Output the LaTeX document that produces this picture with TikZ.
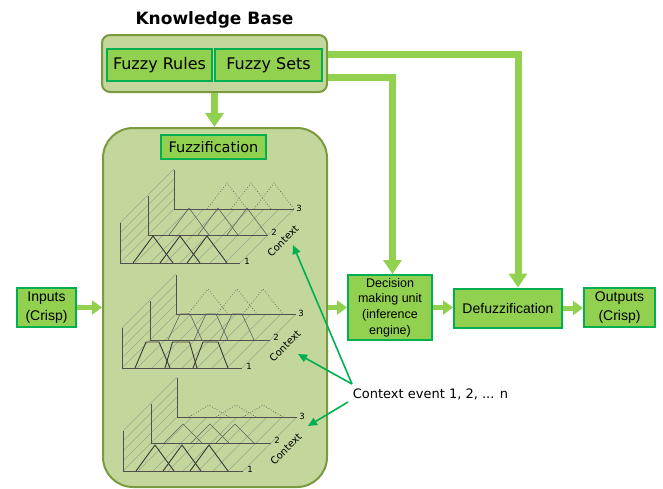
\documentclass[tikz,border=0pt]{standalone}
\usepackage{fontspec}
\setmainfont{DejaVu Sans}
\newfontfamily\arialf{Liberation Sans}
\usetikzlibrary{arrows.meta}
\definecolor{boxfill}{HTML}{C3D69B}
\definecolor{boxline}{HTML}{7A9A3E}
\definecolor{infill}{HTML}{92D050}
\definecolor{inline}{HTML}{00B050}
\definecolor{conn}{HTML}{92D050}
\definecolor{ctxg}{HTML}{00B050}
\definecolor{hatchc}{RGB}{158,170,140}
\definecolor{axisc}{RGB}{80,80,80}
\tikzset{
 outerbox/.style={draw=boxline, fill=boxfill, line width=2pt, inner sep=0pt},
 innerbox/.style={draw=inline, fill=infill, line width=2pt, inner sep=0pt, align=center},
 bigarrow/.style={draw=conn, line width=7pt, -{Triangle[width=18pt,length=14pt]}},
 smallarrow/.style={draw=conn, line width=5pt, -{Triangle[width=14pt,length=10pt]}},
 ctxarrow/.style={draw=ctxg, line width=1.6pt, -{Triangle[width=8pt,length=9pt]}},
 hatch/.style={draw=hatchc, line width=0.5pt},
 axisline/.style={draw=axisc, line width=1pt},
 layerA/.style={draw=black!78, line width=0.9pt},
 layerB/.style={draw=black!62, line width=0.6pt},
 layerC/.style={draw=black!62, line width=0.7pt, dotted},
 smalllab/.style={font=\fontsize{8.5}{10}\selectfont, inner sep=0pt},
 ctxlab/.style={font=\fontsize{10}{12}\selectfont, inner sep=0pt, rotate=45},
}
\newcommand\fztri[3]{\draw (#1-#2,0) -- (#1,-#3) -- (#1+#2,0);}
\newcommand\fztrap[4]{\draw (#1-#2,0) -- (#1-#3,-#4) -- (#1+#3,-#4) -- (#1+#2,0);}
\newcommand\fzaxes{%
  \foreach \i in {0,15,...,120} {\draw[hatch] (\i,0) -- ++(54,-54);}
  \foreach \h in {10,20,30,40} {\draw[hatch] (0,-\h) -- ++(54,-54);}
  \draw[axisline] (54,-93) -- (54,-54) -- (174,-54);
  \draw[axisline] (28,-67) -- (28,-28) -- (148,-28);
  \draw[axisline] (0,-40) -- (0,0) -- (120,0);
  \node[smalllab] at (127,-1.5) {1};
  \node[smalllab] at (154,-31) {2};
  \node[smalllab] at (179,-55) {3};
  \node[ctxlab] at (163,-22) {Context};
}
\begin{document}
\begin{tikzpicture}[x=1pt,y=-1pt]
\useasboundingbox (0,0) rectangle (663,488);

% knowledge base
\node[font=\bfseries\fontsize{17}{20}\selectfont] (title) at (214.5,20) {Knowledge Base};
\node[outerbox, rounded corners=8pt, minimum width=225pt, minimum height=57pt] (kb) at (214.5,63.5) {};
\node[innerbox, minimum width=105pt, minimum height=32pt, font=\fontsize{16}{19}\selectfont] (rules) at (159.5,65) {Fuzzy Rules};
\node[innerbox, minimum width=107pt, minimum height=32pt, font=\fontsize{16}{19}\selectfont] (sets) at (268.5,65) {Fuzzy Sets};

% fuzzification block
\node[outerbox, rounded corners=30pt, minimum width=224pt, minimum height=359pt] (fuzz) at (215,307.5) {};
\node[innerbox, minimum width=105pt, minimum height=24pt, font=\fontsize{14.5}{17}\selectfont] (fzlab) at (213.5,147) {Fuzzification};

% chart 1
\begin{scope}[shift={(120,263)}]
  \fzaxes
  \begin{scope}[layerA] \fztri{33}{20}{27} \fztri{60}{20}{27} \fztri{87}{20}{27} \end{scope}
  \begin{scope}[shift={(28,-28)}, layerB] \fztri{41}{20}{27} \fztri{70}{20}{27} \fztri{99}{20}{27} \end{scope}
  \begin{scope}[shift={(54,-54)}, layerC] \fztri{53}{20}{26} \fztri{77}{20}{26} \fztri{100}{20}{26} \end{scope}
\end{scope}

% chart 2
\begin{scope}[shift={(122,368)}]
  \fzaxes
  \begin{scope}[layerA] \fztrap{30.5}{17.5}{6.5}{26} \fztrap{59}{16}{8.5}{26} \fztrap{88.5}{17.5}{7.5}{26} \end{scope}
  \begin{scope}[shift={(28,-28)}, layerB] \fztrap{35}{17}{5}{26} \fztrap{61}{17}{5}{26} \fztrap{87}{17}{5}{26} \end{scope}
  \begin{scope}[shift={(54,-54)}, layerC] \fztri{32}{20}{25} \fztri{61}{20}{25} \fztri{87}{20}{25} \end{scope}
\end{scope}

% chart 3
\begin{scope}[shift={(123,471)}]
  \fzaxes
  \begin{scope}[layerA] \fztri{32}{19}{26} \fztri{59}{19}{26} \fztri{86}{19}{26} \end{scope}
  \begin{scope}[shift={(28,-28)}, layerB] \fztri{32}{19}{19} \fztri{59}{19}{19} \fztri{84}{19}{19} \end{scope}
  \begin{scope}[shift={(54,-54)}, layerC] \fztri{32}{20}{12} \fztri{59}{20}{12} \fztri{86}{20}{12} \end{scope}
\end{scope}

% other blocks
\node[innerbox, minimum width=59pt, minimum height=39pt, font=\arialf\fontsize{14}{19}\selectfont] (in) at (46.5,307.5) {Inputs\\(Crisp)};
\node[innerbox, minimum width=84pt, minimum height=65pt, font=\arialf\fontsize{12.5}{15.7}\selectfont] (dmu) at (390,307.5) {Decision\\making unit\\(inference\\engine)};
\node[innerbox, minimum width=108pt, minimum height=39pt, font=\arialf\fontsize{14}{17}\selectfont] (defuzz) at (508,308) {Defuzzification};
\node[innerbox, minimum width=71pt, minimum height=39pt, font=\arialf\fontsize{14}{19}\selectfont] (out) at (619.5,307.5) {Outputs\\(Crisp)};

% connectors
\draw[bigarrow] (kb.south) -- (kb.south |- fuzz.north);
\draw[bigarrow] ([yshift=9.5pt]kb.east) -| ([xshift=10pt]defuzz.north);
\draw[bigarrow] ([yshift=-13.5pt]kb.east) -| ([xshift=2.5pt]dmu.north);
\draw[smallarrow] (in) -- (fuzz);
\draw[smallarrow] (fuzz) -- (dmu);
\draw[smallarrow] (dmu.east) -- (dmu.east -| defuzz.west);
\draw[smallarrow] (defuzz.east) -- (defuzz.east -| out.west);

% context events
\node[font=\fontsize{13}{15}\selectfont, inner sep=0pt] (ctx) at (430.5,394) {Context event 1, 2, ... n};
\coordinate (s1) at (352,384);
\coordinate (s2) at (348,402);
\coordinate (t1) at (293,245);
\coordinate (t2) at (298,354);
\coordinate (t3) at (308,426);
\draw[ctxarrow] (s1) -- (t1);
\draw[ctxarrow] (s1) -- (t2);
\draw[ctxarrow] (s2) -- (t3);
\end{tikzpicture}
\end{document}
